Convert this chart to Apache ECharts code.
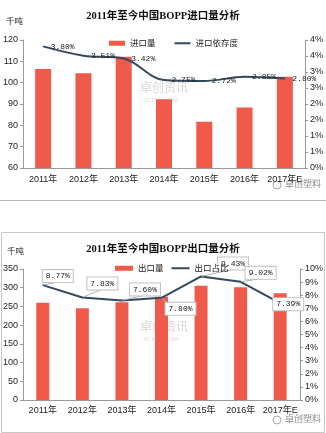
<!DOCTYPE html>
<html><head><meta charset="utf-8">
<script src="https://cdn.jsdelivr.net/npm/echarts@6/dist/echarts.min.js"></script>
<style>html,body{margin:0;padding:0;background:#fff}#c{width:326px;height:433px}</style>
</head><body><div id="c"></div>
<script>
// ---- data ----
const years = ['2011年','2012年','2013年','2014年','2015年','2016年','2017年E'];
const importVolume = [106.4, 104.4, 112.2, 92.2, 81.7, 88.4, 102.8];      // 千吨
const importDependence = [3.80, 3.51, 3.42, 2.75, 2.72, 2.85, 2.80];     // %
const exportVolume = [260, 245, 261, 276, 305, 301, 285];                // 千吨
const exportShare = [8.77, 7.83, 7.60, 7.80, 9.43, 9.02, 7.39];          // %
const importAxis = {min: 60, max: 120, interval: 10};
const importPctAxis = {min: 0, max: 4, interval: 0.5};
const exportAxis = {min: 0, max: 350, interval: 50};
const exportPctAxis = {min: 0, max: 10, interval: 1};
// label offsets (style only) for the export-share labels
const exportLabelOffsets = [[15,-9],[20,-14],[23,-11],[19,11],[32,-13],[20,-9],[8,1]];

const RED = '#EF5A4B', LINE = '#34495E', AX = '#9a9a9a';
const FONT = "'Liberation Sans','Noto Sans CJK SC',sans-serif";
const TFONT = "'Liberation Serif','Noto Sans CJK SC',serif";
const MONO = "'Liberation Mono','Noto Sans CJK SC',monospace";

const chart = echarts.init(document.getElementById('c'), null, {renderer: 'canvas'});

function catAxis(gi){
  return {type:'category', gridIndex:gi, data:years,
    axisLine:{lineStyle:{color:AX}}, axisTick:{show:false},
    axisLabel:{color:'#222', fontSize:9, fontFamily:FONT, margin: gi===0?7:6, interval:0}};
}
function valAxis(gi, cfg, fmt, right){
  return Object.assign({type:'value', gridIndex:gi, position: right?'right':'left',
    splitLine:{show:false},
    axisLine:{show:true, lineStyle:{color:AX}},
    axisTick:{show:true, length:3, lineStyle:{color:AX}},
    axisLabel:{color:'#222', fontSize:9, fontFamily:FONT, margin:5, formatter:fmt}}, cfg);
}
const pctFmt = v => Math.round(v + 1e-9) + '%';

chart.setOption({
  animation:false,
  title:[
    {text:'2011年至今中国BOPP进口量分析', left:'center', top:6,
     textStyle:{fontSize:10.5, fontWeight:'bold', fontFamily:TFONT, color:'#111'}},
    {text:'2011年至今中国BOPP出口量分析', left:'center', top:239,
     textStyle:{fontSize:10.5, fontWeight:'bold', fontFamily:TFONT, color:'#111'}}
  ],
  legend:[
    {top:34, left:104, itemWidth:16, itemHeight:5, itemGap:18,
     textStyle:{fontSize:8.5, fontFamily:FONT, color:'#222'},
     data:[{name:'进口量', icon:'rect'}, {name:'进口依存度', itemStyle:{opacity:0}}]},
    {top:259, left:110, itemWidth:18, itemHeight:5, itemGap:7,
     textStyle:{fontSize:8.5, fontFamily:FONT, color:'#222'},
     data:[{name:'出口量', icon:'rect'}, {name:'出口占比', itemStyle:{opacity:0}}]}
  ],
  grid:[
    {left:22, right:19, top:40, bottom:265},
    {left:23, right:24, top:269, bottom:33}
  ],
  xAxis:[catAxis(0), catAxis(1)],
  yAxis:[
    valAxis(0, importAxis, v=>v, false),
    valAxis(0, importPctAxis, pctFmt, true),
    valAxis(1, exportAxis, v=>v, false),
    valAxis(1, exportPctAxis, pctFmt, true)
  ],
  graphic:[
    {type:'text', left:6, top:17, style:{text:'千吨', fontSize:8.5, fontFamily:FONT, fill:'#222'}},
    {type:'text', left:7, top:247, style:{text:'千吨', fontSize:8.5, fontFamily:FONT, fill:'#222'}},
    {type:'line', shape:{x1:0,y1:200.5,x2:326,y2:200.5}, style:{stroke:'#b5b5b5', lineWidth:1}},
    {type:'rect', shape:{x:1.5,y:232.5,width:323,height:200}, style:{fill:null, stroke:'#c8c8c8', lineWidth:1}},
    // watermarks
    {type:'text', left:140, top:83, z:-1, style:{text:'卓创资讯', fontSize:12, fontFamily:FONT, fill:'#d6d6d6'}},
    {type:'text', left:143, top:97, z:-1, style:{text:'SCI99.COM', fontSize:7, fontFamily:TFONT, fill:'#dcdcdc'}},
    {type:'text', left:140, top:322, z:-1, style:{text:'卓创资讯', fontSize:12, fontFamily:FONT, fill:'#d6d6d6'}},
    {type:'text', left:143, top:336, z:-1, style:{text:'SCI99.COM', fontSize:7, fontFamily:TFONT, fill:'#dcdcdc'}},
    {type:'circle', shape:{cx:277, cy:185, r:4}, style:{fill:null, stroke:'#aaa', lineWidth:1}},
    {type:'text', left:285, top:180, style:{text:'卓创塑料', fontSize:9, fontFamily:FONT, fill:'#8a8a8a'}},
    {type:'circle', shape:{cx:277, cy:420, r:4}, style:{fill:null, stroke:'#aaa', lineWidth:1}},
    {type:'text', left:285, top:415, style:{text:'卓创塑料', fontSize:9, fontFamily:FONT, fill:'#8a8a8a'}}
  ],
  series:[
    {name:'进口量', type:'bar', xAxisIndex:0, yAxisIndex:0, data:importVolume, barWidth:16,
     itemStyle:{color:RED}},
    {name:'进口依存度', type:'line', xAxisIndex:0, yAxisIndex:1, data:importDependence,
     smooth:0.35, symbol:'circle', symbolSize:1, itemStyle:{color:LINE},
     lineStyle:{color:LINE, width:2},
     label:{show:true, position:'right', distance:7, fontSize:8, fontFamily:MONO, color:'#222',
            formatter:p=>p.value.toFixed(2)+'%'}},
    {name:'出口量', type:'bar', xAxisIndex:1, yAxisIndex:2, data:exportVolume, barWidth:13,
     itemStyle:{color:RED}},
    {name:'出口占比', type:'line', xAxisIndex:1, yAxisIndex:3,
     data:exportShare.map((v,i)=>({value:v, label:{offset:exportLabelOffsets[i]}})),
     symbol:'circle', symbolSize:1, itemStyle:{color:LINE},
     lineStyle:{color:LINE, width:2},
     labelLine:{show:true, lineStyle:{color:'#b0b0b0', width:1}},
     label:{show:true, position:'inside', fontSize:8, fontFamily:MONO, color:'#222',
            backgroundColor:'#fff', borderColor:'#c0c0c0', borderWidth:1, padding:[2,3],
            formatter:p=>p.value.toFixed(2)+'%'}}
  ]
});
</script></body></html>
